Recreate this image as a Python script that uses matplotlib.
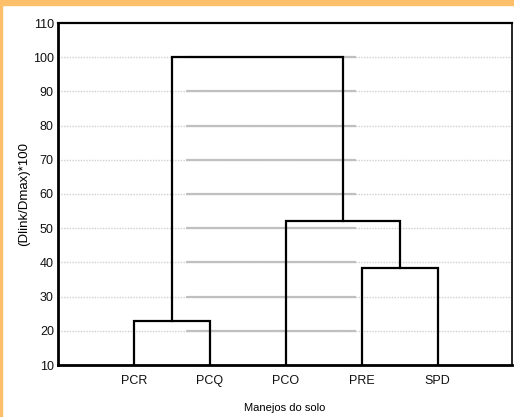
import matplotlib.pyplot as plt
import numpy as np

plt.rcParams['font.family'] = ['Liberation Sans', 'DejaVu Sans']

# leaves and merge heights
leaves = ['PCR', 'PCQ', 'PCO', 'PRE', 'SPD']
leaf_pos = [1, 2, 3, 4, 5]
# each merge: left x, right x, left bottom, right bottom, height
merge_left = [1, 4, 3, 1.5]
merge_right = [2, 5, 4.5, 3.75]
merge_lbot = [10, 10, 10, 23]
merge_rbot = [10, 10, 38.5, 52]
merge_h = [23, 38.5, 52, 100]

fig = plt.figure(figsize=(5.14, 4.17), dpi=100)
fig.patch.set_facecolor('white')
# orange frame strips
fig.add_artist(plt.Rectangle((0, 1 - 5 / 417), 1, 5 / 417, transform=fig.transFigure,
                             color='#fdbf6a', zorder=0))
fig.add_artist(plt.Rectangle((0, 0), 2 / 514, 1, transform=fig.transFigure,
                             color='#fdbf6a', zorder=0))

ax = fig.add_axes([58 / 514, 1 - 365 / 417, 454 / 514, 342 / 417])

yt = np.arange(20, 101, 10)
for y in yt:
    ax.axhline(y, color='#cfcfcf', lw=1, ls=(0, (1, 1)), zorder=1)
    ax.hlines(y, 1.68, 3.92, color='#c0c0c0', lw=1.6, zorder=1)

for xl, xr, lb, rb, h in zip(merge_left, merge_right, merge_lbot, merge_rbot, merge_h):
    ax.plot([xl, xl, xr, xr], [lb, h, h, rb], color='black', lw=1.6,
            solid_joinstyle='miter', zorder=3)

ax.set_xlim(0, 5.98)
ax.set_ylim(10, 110)
ax.set_yticks(np.arange(10, 111, 10))
ax.set_xticks(leaf_pos)
ax.set_xticklabels(leaves)
ax.tick_params(axis='both', length=0, labelsize=9, pad=3, colors='#111111')
ax.tick_params(axis='x', pad=7)

for s in ['left', 'bottom']:
    ax.spines[s].set_linewidth(2)
ax.spines['top'].set_linewidth(1.6)
ax.spines['right'].set_linewidth(1.2)
ax.spines['right'].set_linestyle((0, (2, 1)))

ax.set_ylabel('(Dlink/Dmax)*100', fontsize=9.5, labelpad=2)
ax.set_xlabel('Manejos do solo', fontsize=8, labelpad=12)

plt.savefig('out.png', dpi=100)
